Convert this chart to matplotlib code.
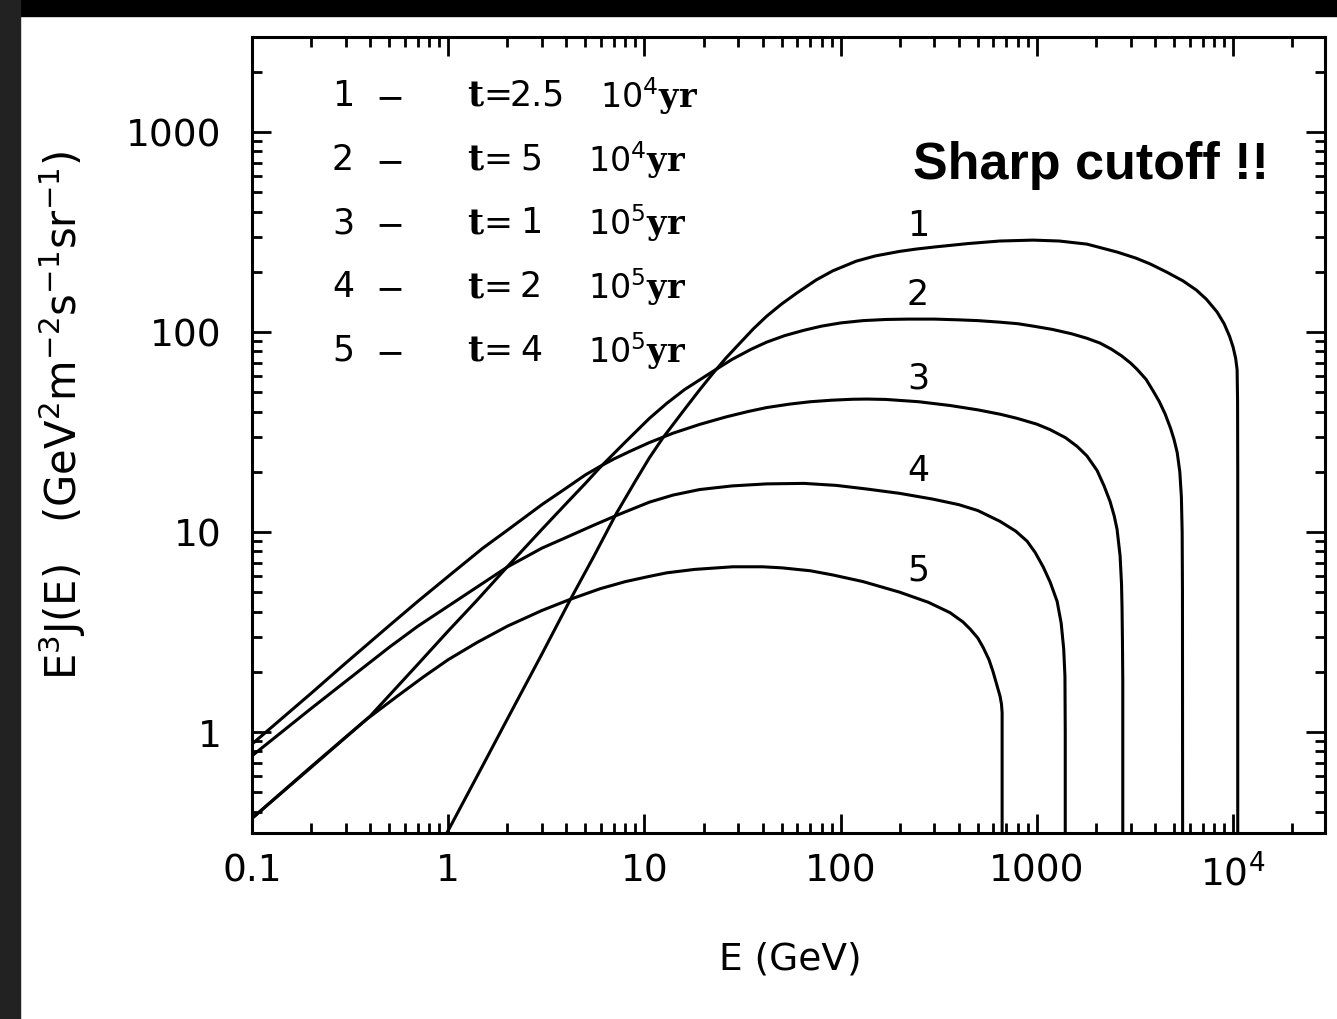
import matplotlib
matplotlib.use("Agg")
import matplotlib.pyplot as plt
from matplotlib.patches import Rectangle
from matplotlib.ticker import FixedLocator, LogLocator, NullFormatter

plt.rcParams['font.family'] = 'DejaVu Sans'
plt.rcParams['mathtext.fontset'] = 'custom'
plt.rcParams['mathtext.rm'] = 'DejaVu Sans'
plt.rcParams['mathtext.it'] = 'DejaVu Sans:italic'
plt.rcParams['mathtext.bf'] = 'DejaVu Serif:bold'

# E (GeV) and E^3 J(E), one pair per curve
e1 = [0.98, 1.5, 2.0, 3.0, 4.17, 5.5, 7.2, 9.0, 10.6, 12.4, 16, 19, 22.3, 26, 30, 36, 42, 50,
      60, 75, 91, 120, 150, 200, 244, 300, 361, 450, 646, 957, 1300, 1800, 2564, 3200, 3776,
      4600, 5560, 6500, 7300, 8281, 9000, 9600, 10000, 10300, 10480, 10540, 10560, 10560]
j1 = [0.31, 0.68, 1.16, 2.45, 4.55, 7.5, 12.4, 18.0, 23.5, 29.5, 41, 51, 62, 74, 86, 104, 120, 138,
      157, 182, 202, 226, 240, 253, 260, 266, 271, 277, 285, 288, 285, 275, 251, 234, 219,
      199, 180, 162, 146, 126, 110, 95, 84, 74, 65, 45, 20, 0.3]

e2 = [0.1, 0.2, 0.4, 0.7, 1.0, 1.4, 2.0, 3.0, 4.0, 5.0, 5.93, 8, 10.6, 13, 16, 22.3, 28, 35,
      42, 52, 65, 80, 100, 130, 170, 220, 300, 400, 500, 646, 800, 957, 1200, 1500, 1800,
      2099, 2400, 2700, 3000, 3243, 3600, 3900, 4200, 4500, 4800, 5000, 5188, 5350, 5450,
      5500, 5520, 5530]
j2 = [0.37, 0.67, 1.2, 2.18, 3.2, 4.55, 6.7, 10.3, 13.9, 17.5, 21.0, 28.2, 37, 44, 51.5, 63.5, 73, 82,
      89, 96, 102, 107, 111, 114, 115.5, 116, 116, 115, 114, 112, 110, 107, 103, 98, 93,
      88, 82, 76, 70, 65, 58, 51, 45, 39, 33, 29, 25, 20, 15,
      10, 5, 0.3]

e3 = [0.1, 0.2, 0.3, 0.5, 0.7, 1.0, 1.5, 2.0, 3.0, 4.0, 5.0, 6.0, 7.0, 8.5, 10.6, 14, 19.1,
      26, 34, 42, 55, 70, 90, 115, 136, 170, 250, 361, 500, 650, 793, 1000, 1167, 1400, 1603,
      1800, 2027, 2200, 2361, 2480, 2563, 2655, 2700, 2716, 2730, 2740, 2740]
j3 = [0.87, 1.56, 2.21, 3.4, 4.5, 6.0, 8.3, 10.2, 13.7, 16.6, 19.3, 21.4, 23.2, 25.4, 28.0, 31.2, 34.5,
      37.6, 40.1, 41.9, 43.6, 44.8, 45.6, 46.1, 46.2, 46.0, 44.8, 42.9, 40.8, 38.8, 37.0, 34.6, 32.5, 29.6, 26.8,
      24.0, 20.3, 17.0, 14.2, 12.0, 10.3, 7.6, 5.5, 4.2, 2.8, 1.8, 0.3]

e4 = [0.1, 0.2, 0.3, 0.5, 0.7, 1.0, 1.4, 2.0, 3.0, 4.0, 5.5, 7.2, 10.6, 14, 19.1, 28, 42, 65,
      95, 136, 200, 295, 400, 500, 649, 780, 891, 980, 1076, 1170, 1268, 1330, 1370, 1390,
      1395, 1395]
j4 = [0.76, 1.31, 1.79, 2.65, 3.38, 4.26, 5.3, 6.68, 8.3, 9.4, 10.8, 12.1, 14.1, 15.3, 16.3, 17.0, 17.4, 17.5,
      17.1, 16.4, 15.6, 14.6, 13.7, 12.8, 11.3, 10.1, 9.0, 7.9, 6.7, 5.6, 4.5, 3.5, 2.6, 1.9,
      1.0, 0.3]

e5 = [0.1, 0.2, 0.3, 0.385, 0.55, 0.75, 1.0, 1.4, 2.0, 3.0, 4.17, 5.93, 8, 10.6, 13, 18, 28.2,
      40, 50, 70, 91, 130, 200, 280, 361, 420, 457, 500, 532, 570, 598, 625, 649, 660, 665, 665]
j5 = [0.37, 0.665, 0.94, 1.16, 1.51, 1.89, 2.3, 2.8, 3.38, 4.05, 4.6, 5.2, 5.65, 6.0, 6.25, 6.5, 6.7,
      6.7, 6.62, 6.4, 6.1, 5.65, 5.0, 4.45, 3.95, 3.55, 3.27, 2.95, 2.65, 2.3, 2.0, 1.72, 1.51, 1.38, 1.25, 0.3]

curve_ids = ["1", "2", "3", "4", "5"]
label_e = [248, 248, 248, 248, 248]
label_j = [343, 155, 58.9, 20.4, 6.46]
age_values = ["2.5", "5", "1", "2", "4"]
age_powers = ["4", "4", "5", "5", "5"]

xticks = [0.1, 1, 10, 100, 1000, 1e4]
xtick_labels = ["0.1", "1", "10", "100", "1000", r"10$^{4}$"]
yticks = [1, 10, 100, 1000]
ytick_labels = ["1", "10", "100", "1000"]

W, H = 1337, 1020
fig = plt.figure(figsize=(W / 100, H / 100), dpi=100)
ax = fig.add_axes([252 / W, 1 - 834 / H, (1325 - 252) / W, (834 - 38) / H])

for e, j in zip([e1, e2, e3, e4, e5], [j1, j2, j3, j4, j5]):
    ax.plot(e, j, color="black", lw=2.2, solid_joinstyle="round")

ax.set_xscale("log")
ax.set_yscale("log")
ax.set_xlim(0.1, 2.94e4)
ax.set_ylim(0.3126, 2985)

ax.xaxis.set_major_locator(FixedLocator(xticks))
ax.set_xticklabels(xtick_labels)
ax.yaxis.set_major_locator(FixedLocator(yticks))
ax.set_yticklabels(ytick_labels)
for a in (ax.xaxis, ax.yaxis):
    a.set_minor_locator(LogLocator(base=10, subs=range(2, 10), numticks=20))
    a.set_minor_formatter(NullFormatter())

ax.tick_params(which="both", direction="in", top=True, right=True, width=2)
ax.tick_params(which="major", length=14, labelsize=27)
ax.tick_params(which="minor", length=7)
ax.tick_params(axis="x", pad=14)
ax.tick_params(axis="y", pad=22)
for s in ax.spines.values():
    s.set_linewidth(2.2)

# legend block, placed in pixel-like axes fractions
def fx(px):
    return (px - 252) / 1073

def fy(py):
    return (834 - py) / 796

rows_py = [96, 160, 223, 287, 351]
for i, (cid, val, pw, py) in enumerate(zip(curve_ids, age_values, age_powers, rows_py)):
    ax.text(fx(343), fy(py), cid, transform=ax.transAxes, ha="center", va="center", fontsize=25)
    ax.text(fx(390), fy(py + 2), "\u2212", transform=ax.transAxes, ha="center", va="center", fontsize=25)
    ax.text(fx(467), fy(py), r"$\mathbf{t}$=", transform=ax.transAxes, ha="left", va="center", fontsize=25)
    ax.text(fx(537 if i == 0 else 531), fy(py), val, transform=ax.transAxes, ha="center", va="center",
            fontsize=25)
    ax.text(fx(600 if i == 0 else 588), fy(py), "10$^{" + pw + r"}$$\mathbf{yr}$", transform=ax.transAxes,
            ha="left", va="center", fontsize=24)

# curve numbers
for cid, xe, yj in zip(curve_ids, label_e, label_j):
    ax.text(xe, yj, cid, ha="center", va="center", fontsize=25)

ax.text(fx(1091), fy(166), "Sharp cutoff !!", transform=ax.transAxes, ha="center", va="center",
        fontsize=37.5, fontweight="bold", family="Liberation Sans")

fig.text(790 / W, 1 - 960 / H, "E (GeV)", ha="center", va="center", fontsize=27)
fig.text(62 / W, 1 - 415 / H, r"E$^{3}$J(E)   (GeV$^{2}$m$^{-2}$s$^{-1}$sr$^{-1}$)",
         rotation=90, ha="center", va="center", fontsize=30)

# dark scan border
fig.patches.append(Rectangle((0, 1 - 17 / H), 1, 17 / H, transform=fig.transFigure,
                             color="black", zorder=10))
fig.patches.append(Rectangle((0, 0), 20 / W, 1, transform=fig.transFigure,
                             color="#222222", zorder=10))

fig.savefig("out.png", dpi=100)
